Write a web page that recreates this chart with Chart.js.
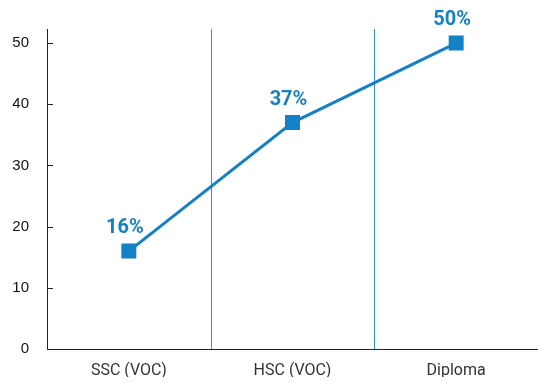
<!DOCTYPE html>
<html>
<head>
<meta charset="utf-8">
<script src="https://cdn.jsdelivr.net/npm/chart.js@4"></script>
<style>
  html, body { margin: 0; padding: 0; background: #fff; overflow: hidden; }
  #chart { display: block; }
</style>
</head>
<body>
<canvas id="chart" width="538" height="383"></canvas>
<script>
// Share of respondents by qualification
const categories = ['SSC (VOC)', 'HSC (VOC)', 'Diploma'];
const values = [16, 37, 50];
const valueLabels = ['16%', '37%', '50%'];
const yTicks = [0, 10, 20, 30, 40, 50];

const BLUE = '#1581c5';

// Thin blue dividers between the categories, plus short inward ticks on the y axis
const dividers = {
    id: 'dividers',
    beforeDatasetsDraw(chart) {
        const { ctx, chartArea, scales } = chart;
        ctx.save();
        ctx.strokeStyle = '#2b93d6';
        ctx.lineWidth = 1;
        [0.5, 1.5].forEach(v => {
            const x = Math.round(scales.x.getPixelForValue(v)) + 0.5;
            ctx.beginPath();
            ctx.moveTo(x, chartArea.top);
            ctx.lineTo(x, chartArea.bottom);
            ctx.stroke();
        });
        ctx.strokeStyle = '#222';
        yTicks.forEach(t => {
            const y = Math.round(scales.y.getPixelForValue(t)) + 0.5;
            ctx.beginPath();
            ctx.moveTo(chartArea.left, y);
            ctx.lineTo(chartArea.left + 6, y);
            ctx.stroke();
        });
        ctx.restore();
    }
};

// Percentage labels above each marker
const pointLabels = {
    id: 'pointLabels',
    afterDatasetsDraw(chart) {
        const { ctx } = chart;
        const meta = chart.getDatasetMeta(0);
        ctx.save();
        ctx.fillStyle = BLUE;
        ctx.font = 'bold 20px Roboto, "Liberation Sans", sans-serif';
        ctx.textAlign = 'center';
        ctx.textBaseline = 'alphabetic';
        meta.data.forEach((pt, i) => {
            ctx.fillText(valueLabels[i], pt.x - 4, pt.y - 18);
        });
        ctx.restore();
    }
};

new Chart(document.getElementById('chart'), {
    type: 'line',
    data: {
        labels: categories,
        datasets: [{
            data: values,
            borderColor: BLUE,
            borderWidth: 3,
            tension: 0,
            pointStyle: 'rect',
            pointRadius: 10.6,
            pointHoverRadius: 10.6,
            pointBackgroundColor: BLUE,
            pointBorderWidth: 0
        }]
    },
    options: {
        responsive: false,
        animation: false,
        layout: {
            autoPadding: false,
            padding: { top: 29, left: 11, right: 0, bottom: 6 }
        },
        plugins: {
            legend: { display: false },
            tooltip: { enabled: false }
        },
        scales: {
            x: {
                offset: true,
                afterFit(scale) {
                    scale.height = 28;
                    scale.paddingLeft = 0;
                    scale.paddingRight = 0;
                },
                grid: { display: false, drawTicks: false },
                border: { display: true, color: '#222', width: 1 },
                ticks: {
                    color: '#333',
                    padding: 12,
                    font: { family: 'Roboto', size: 16 }
                }
            },
            y: {
                min: 0,
                max: 52.3,
                afterBuildTicks(scale) {
                    scale.ticks = yTicks.map(v => ({ value: v }));
                },
                afterFit(scale) { scale.width = 36; },
                grid: { display: false, drawTicks: false },
                border: { display: true, color: '#222', width: 1 },
                ticks: {
                    color: '#111',
                    padding: 18,
                    font: { family: '"Liberation Sans", Arial, sans-serif', size: 15 }
                }
            }
        }
    },
    plugins: [dividers, pointLabels]
});
</script>
</body>
</html>
